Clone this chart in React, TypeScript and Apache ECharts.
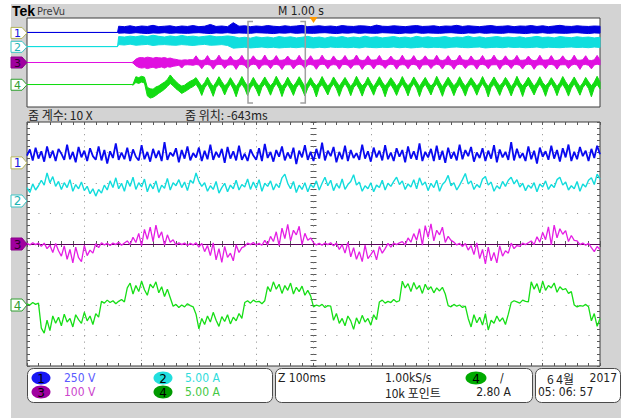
import React, { useEffect, useRef } from "react";
import * as echarts from "echarts";

// ---------- scope settings ----------
const CH_LABELS = ["1", "2", "3", "4"];
const CH_SCALE = [250, 5, 100, 5]; // units per division
const CH_UNITS = ["V", "A", "V", "A"];
const CH_POS_DIV = [2.66, 1.41, 0, -2.0]; // ground marker position (divisions from centre)
const CH_COLORS = ["#0a0af0", "#12dcdc", "#e41ee4", "#16de16"];
const CH_WIDTHS = [1.8, 1.4, 1.3, 1.3];
const OV_COLORS = ["#0000e0", "#10dede", "#e010e0", "#12dc12"];
const TIME_DIV_MS = 100; // zoom time base
const OV_HALF_MS = 5000; // 1 s/div * 5 div
const ZOOM_POS_MS = -643;
const TRIGGER_MS = 0;

// ---------- zoomed (main) window, sampled every 5 ms from -500 ms ----------
const MAIN_T0 = -500;
const MAIN_STEP = 5;
const mainCh1 = [
  60, 110, 20, 125, 35, 95, 10, 135, 40, 100, 15, 115, 75, 25, 150, 30, 90, 5, 130, 45,
  100, 15, 120, 55, 25, 135, 20, 105, -5, 95, 40, 160, 25, 85, 30, 125, 15, 110, 50, 20,
  145, 30, 90, 10, 115, 40, 100, 15, 170, 25, 85, 55, 120, 5, 105, 35, 135, 20, 80, 45,
  125, 15, 100, 30, 150, 25, 90, 45, 115, 0, 130, 35, 95, 20, 140, 25, 75, 15, 110, 60,
  25, 120, 15, 155, 40, 90, 10, 105, 50, 135, 20, 85, 35, 125, -10, 100, 45, 145, 25, 90,
  15, 115, 35, 165, 20, 100, 55, 130, 5, 90, 30, 140, 15, 105, 40, 80, 25, 150, 35, 95,
  10, 125, 45, 100, 20, 145, 30, 85, 15, 120, 50, 105, 5, 135, 35, 95, 25, 160, 15, 90,
  45, 115, 15, 140, 25, 100, 0, 125, 35, 90, 20, 150, 30, 105, 55, 130, 10, 85, 40, 120,
  15, 100, 35, 145, 5, 110, 45, 90, 25, 170, 20, 115, 40, 80, 15, 135, 30, 100, -5, 125,
  50, 95, 25, 140, 35, 105, 10, 120, 45, 150, 15, 90, 30, 130, 55, 100, 15, 115, 40, 140,
  70,
];
const mainCh2 = [
  2.2, 1.4, 2.8, 1.8, 2.5, 3.4, 2.6, 4.6, 3.0, 4.0, 2.4, 3.2, 1.9, 3.0, 2.2, 3.5, 1.6, 2.7, 2.0, 3.1,
  1.7, 2.4, 1.2, 2.0, 0.8, 1.9, 1.3, 2.6, 1.8, 3.3, 2.2, 3.8, 2.0, 2.9, 1.6, 3.4, 2.4, 3.9, 1.9, 3.0,
  2.3, 3.6, 1.5, 2.8, 2.0, 3.3, 1.4, 2.6, 2.1, 3.7, 1.8, 3.0, 2.5, 3.5, 2.2, 3.1, 1.7, 3.4, 2.9, 4.6,
  3.2, 2.4, 3.0, 1.6, 2.5, 1.9, 3.2, 1.3, 2.2, 2.9, 1.5, 2.6, 2.0, 3.4, 1.8, 2.7, 2.3, 3.6, 1.9, 3.1,
  2.1, 3.5, 1.6, 2.9, 2.4, 3.3, 1.8, 2.8, 2.2, 3.8, 4.4, 2.9, 2.0, 3.2, 1.4, 2.6, 1.9, 3.0, 1.5, 2.7,
  2.2, 3.3, 1.8, 2.9, 3.9, 2.5, 3.4, 1.7, 2.8, 2.1, 3.6, 1.9, 2.7, 3.2, 4.3, 2.6, 3.1, 1.6, 2.5, 2.0,
  3.0, 1.5, 2.6, 2.2, 3.4, 1.8, 2.9, 2.4, 3.2, 3.9, 2.7, 3.3, 1.9, 2.8, 2.3, 3.5, 2.0, 3.8, 2.6, 3.1,
  1.7, 2.9, 2.2, 3.4, 1.6, 2.7, 3.2, 4.2, 2.5, 3.0, 1.8, 2.6, 3.5, 4.5, 2.8, 3.3, 1.9, 2.7, 2.2, 3.6,
  4.0, 2.6, 3.1, 1.6, 2.5, 2.0, 3.2, 2.4, 3.4, 3.9, 2.8, 3.5, 2.3, 2.9, 1.7, 2.6, 2.1, 3.0, 1.5, 2.8,
  2.3, 3.3, 1.9, 2.7, 2.2, 3.5, 3.9, 2.6, 3.1, 1.8, 2.5, 2.0, 3.2, 1.6, 2.8, 2.3, 3.4, 3.8, 2.7, 4.4,
  3.6,
];
const mainCh3 = [
  2, -3, 4, -2, 3,
  -8, 3, -15, -4, -28, 2, -22, -40, -6, -50, -18, -62, -10, -45, -58, -5, -38, -20, -30, 1, -12,
  4, -3, 2, -5, 3, -2, 6, -4, 3,
  10, -2, 22, 5, 35, -6, 48, 15, 55, 8, 62, 20, 40, -4, 30, 6, 14,
  -3, 4, -2, 3, -5, 2, -3, 4,
  -10, 2, -25, -5, -38, 4, -52, -15, -60, -8, -44, -30, -55, -3, -28, -12, -8,
  3, -2, 5, -3, 2, -4,
  12, -3, 25, 8, 40, -5, 52, 18, 64, 10, 45, 30, 58, -2, 35, 12, 20, 4,
  -3, 2, -4, 3, -2, 4,
  -6, 3, -18, -2, -30, 5, -42, -12, -50, -25, -58, -4, -48, -35, -20, -52, -8, -30, -15, 2, -10,
  3, -2, 4,
  8, -3, 20, 6, 34, 12, 50, -4, 60, 22, 66, 10, 45, 30, 55, 5, 25, 12, 6,
  -3, 2,
  -8, 2, -20, -5, -35, 4, -48, -18, -65, -10, -55, -28, -62, -6, -40, -22, -30, 3, -15, -5, -8,
  3, -2, 4,
  10, -2, 24, 6, 38, 14, 56, -3, 62, 20, 50, 32, 44, 8, 28, 12, 10,
  -2, 3, -4, 2,
  -12, -25, -8, -18,
];
const mainCh4 = [
  0.2, 0.0, 0.4, 0.1, 0.3,
  -3.8, -4.6, -2.5, -4.2, -1.8, -3.0, -2.0, -3.4, -1.5, -2.8, -2.2, -3.6, -1.6, -2.4, -3.0, -1.2, -2.6, -1.8, -3.2, -1.4, -2.0,
  0.6, 0.3, 0.8, 0.4, 0.7, 0.2, 0.6, 0.9, 0.5,
  2.8, 3.6, 1.8, 3.2, 2.2, 3.9, 2.5, 1.6, 3.4, 2.8, 3.8, 2.0, 3.0, 1.4, 2.6, 1.2,
  -0.2, 0.1, -0.4, 0.0, -0.3, 0.2, -0.1, -0.3,
  -1.5, -3.9, -2.2, -3.2, -1.8, -2.8, -1.2, -2.5, -3.5, -1.9, -2.7, -1.6, -3.1, -2.0, -2.6, -1.4, -2.2,
  0.4, 0.7, 0.3, 0.8, 0.5, 0.6, 0.2, 0.7,
  3.0, 2.2, 3.8, 2.6, 3.4, 1.9, 3.2, 2.4, 3.6, 1.8, 2.9, 2.2, 3.1, 1.6, 2.4, 1.5,
  -0.3, 0.0, -0.2, 0.1, -0.4, -0.1, -0.2,
  -2.5, -1.4, -3.0, -2.2, -3.4, -1.8, -2.6, -4.0, -2.1, -3.1, -1.7, -2.8, -2.2, -3.3, -1.6, -2.4,
  0.5, 0.8, 0.3, 0.6, 0.4, 0.9, 0.5, 0.7,
  3.9, 2.8, 3.5, 2.2, 3.7, 2.6, 3.2, 1.9, 3.4, 2.5, 3.0, 2.0, 2.8, 2.3, 2.9, 1.8,
  -0.1, -0.3, 0.1, -0.2, 0.0, -0.4, -0.2,
  -2.2, -3.6, -1.6, -2.9, -2.0, -3.3, -1.4, -4.1, -2.5, -3.0, -1.8, -2.7, -2.1, -3.2, -1.5,
  0.4, 0.7, 0.5, 0.3, 0.8, 0.6, 0.5,
  3.8, 2.6, 3.5, 2.0, 3.9, 2.4, 3.2, 2.8, 3.6, 2.1, 3.0, 2.5, 2.7, 1.9, 2.2,
  0.0, -0.3, -0.1, -0.2, 0.1, -0.3,
  -2.6, -1.4, -3.5, -2.2,
];

// ---------- overview (10 s record), peak envelopes ----------
const OV_PRE = [10, 0.1, 0, 0.1]; // level before start-up
const OV_A_T0 = -3400; // ch1 / ch2 envelope start, 100 ms step
const OV_A_STEP = 100;
const OV_B_T0 = -3150; // ch3 / ch4 envelope start, 50 ms step
const OV_B_STEP = 50;
const ovCh1Hi = [
  150, 140, 160, 135, 155, 145, 170, 140, 150, 160,
  135, 155, 145, 165, 140, 150, 190, 145, 155, 140,
  230, 150, 160, 140, 155, 145, 165, 150, 140, 160,
  145, 155, 170, 140, 150, 160, 145, 155, 140, 165,
  150, 145, 160, 155, 140, 175, 150, 145, 160, 150,
  140, 155, 165, 145, 150, 160, 140, 155, 150, 170,
  145, 160, 150, 140, 155, 165, 145, 150, 160, 140,
  155, 150, 165, 145, 160, 140, 155, 170, 150, 145,
  160, 150, 145, 155, 150,
];
const ovCh1Lo = [
  -5, 0, -10, 5, -5, -15, 0, -5, 5, -10,
  0, -5, -10, 0, 5, -5, -15, 0, -5, 5,
  -10, 0, -5, -10, 5, 0, -5, -15, 0, -5,
  5, -10, 0, -5, -10, 0, 5, -5, -15, 0,
  -5, 5, -10, 0, -5, -10, 5, 0, -5, -15,
  0, -5, 5, -10, 0, -5, -10, 0, 5, -5,
  -15, 0, -5, 5, -10, 0, -5, -10, 5, 0,
  -5, -15, 0, -5, 5, -10, 0, -5, -10, 0,
  5, -5, -15, 0, -5,
];
const ovCh2Hi = [
  4.6, 4.4, 4.8, 4.5, 5.0, 4.6, 5.2, 4.7, 4.4, 4.9,
  4.5, 5.1, 4.6, 4.8, 4.4, 4.7, 5.0, 4.5, 4.6, 4.9,
  4.6, 4.0, 4.3, 3.9, 4.5, 4.1, 4.4, 4.0, 4.6, 4.2,
  4.5, 4.0, 4.3, 4.7, 4.1, 4.4, 3.9, 4.5, 4.2, 4.6,
  4.0, 4.4, 4.1, 4.8, 4.2, 4.5, 4.0, 4.3, 4.6, 4.1,
  4.4, 4.0, 4.7, 4.2, 4.5, 4.1, 4.3, 4.6, 4.0, 4.4,
  4.2, 4.8, 4.1, 4.5, 4.0, 4.3, 4.6, 4.2, 4.4, 4.1,
  4.5, 4.0, 4.3, 4.7, 4.2, 4.4, 4.0, 4.6, 4.3, 4.1,
  4.5, 4.2, 4.4, 4.0, 4.3,
];
const ovCh2Lo = [
  1.0, 0.8, 1.2, 0.7, 0.9, 1.1, 0.6, 0.9, 1.0, 0.8,
  0.7, 1.0, 0.8, 0.6, 0.9, 1.1, 0.7, 0.8, 1.0, 0.6,
  -0.6, -0.4, -0.2, -0.5, -0.3, -0.1, -0.4, -0.2, -0.5, -0.3,
  -0.2, -0.4, -0.1, -0.3, -0.5, -0.2, -0.4, -0.1, -0.3, -0.2,
  -0.4, -0.2, -0.5, -0.1, -0.3, -0.4, -0.2, -0.3, -0.1, -0.4,
  -0.2, -0.5, -0.3, -0.1, -0.4, -0.2, -0.3, -0.5, -0.2, -0.1,
  -0.3, -0.4, -0.2, -0.1, -0.5, -0.3, -0.2, -0.4, -0.1, -0.3,
  -0.2, -0.4, -0.3, -0.1, -0.5, -0.2, -0.3, -0.4, -0.2, -0.1,
  -0.3, -0.2, -0.4, -0.1, -0.3,
];
const ovCh3Hi = [
  5,
  30, 42, 45, 40, 48, 44, 38, 46, 42, 40, 45, 36, 40, 32, 28,
  22, 20, 24, 22, 26, 24, 60,
  22, 18, 24, 62, 20, 16, 25, 66, 24, 20, 22, 58, 22, 18, 26, 64, 20, 22, 24, 60,
  25, 18, 22, 67, 22, 16, 24, 62, 20, 20, 26, 58, 24, 18, 22, 65, 22, 16, 25, 61,
  20, 22, 24, 66, 25, 18, 20, 59, 22, 16, 24, 63, 20, 20, 26, 67, 24, 18, 22, 60,
  22, 22, 25, 64, 20, 16, 24, 58, 25, 18, 22, 66, 22, 20, 24, 62, 20, 16, 26, 60,
  24, 22, 22, 65, 22, 18, 25, 61, 20, 16, 24, 67, 25, 20, 20, 59, 22, 18, 24, 63,
  20, 22, 26, 66, 24, 16, 22, 60, 22, 18, 25, 64, 20, 20, 24, 58, 25, 16, 22, 65,
  22, 22, 24, 62, 20, 18, 26, 60, 24, 16, 22, 66, 22, 20, 25, 61, 20, 18, 24, 64,
  22,
];
const ovCh3Lo = [
  -5,
  -30, -44, -50, -46, -55, -48, -42, -52, -45, -40, -50, -38, -42, -34, -30,
  -24, -50, -22, -20, -22, -25, -18,
  -22, -56, -20, -18, -24, -60, -22, -16, -20, -54, -24, -20, -22, -62, -20, -18, -25, -57, -22, -15,
  -20, -60, -24, -19, -22, -55, -20, -17, -24, -63, -22, -20, -20, -58, -25, -16, -22, -54, -20, -18,
  -25, -61, -22, -15, -20, -57, -24, -19, -22, -60, -20, -17, -24, -55, -22, -20, -20, -62, -25, -16,
  -22, -58, -20, -18, -25, -54, -22, -15, -20, -60, -24, -19, -22, -57, -20, -17, -24, -63, -22, -20,
  -20, -55, -25, -16, -22, -59, -20, -18, -25, -61, -22, -15, -20, -54, -24, -19, -22, -60, -20, -17,
  -24, -57, -22, -20, -20, -62, -25, -16, -22, -55, -20, -18, -25, -59, -22, -15, -20, -61, -24, -19,
  -22, -56, -20, -17, -24, -60, -22, -20, -20, -54, -25, -16, -22, -62, -20, -18, -25, -57, -22, -15,
  -22,
];
const ovCh4Hi = [
  0.2,
  3.6, 3.2, 3.8, 3.4,
  -1.2, -1.8, -2.0, -1.0,
  -0.5, 0.4, 1.2, 2.4,
  4.4,
  2.8, 1.5, 0.2, -0.6,
  -0.2, 0.8, 1.6, 2.2,
  3.2,
  1.2, -0.6, 1.0, 3.4, 1.0, -0.8, 1.2, 3.6, 1.4, -0.5, 0.8, 3.2, 1.1, -0.9, 1.1, 3.7, 1.3, -0.6, 0.9, 3.3,
  1.0, -0.7, 1.3, 3.5, 1.2, -0.5, 1.0, 3.8, 1.4, -0.8, 0.8, 3.4, 1.1, -0.6, 1.2, 3.6, 1.3, -0.9, 1.0, 3.2,
  1.0, -0.5, 1.1, 3.7, 1.2, -0.7, 0.9, 3.5, 1.4, -0.6, 1.3, 3.3, 1.1, -0.8, 1.0, 3.8, 1.3, -0.5, 0.8, 3.4,
  1.0, -0.9, 1.2, 3.6, 1.2, -0.6, 1.1, 3.2, 1.4, -0.7, 0.9, 3.7, 1.1, -0.5, 1.0, 3.5, 1.3, -0.8, 1.3, 3.3,
  1.0, -0.6, 0.8, 3.8, 1.2, -0.9, 1.2, 3.4, 1.4, -0.5, 1.0, 3.6, 1.1, -0.7, 1.1, 3.2, 1.3, -0.6, 0.9, 3.7,
  1.0, -0.8, 1.3, 3.5, 1.2, -0.5, 1.0, 3.3, 1.4, -0.9, 0.8, 3.8, 1.1, -0.6, 1.2, 3.4, 1.3, -0.7, 1.1, 3.6,
  1.0, -0.5, 0.9, 3.2, 1.2, -0.8, 1.0, 3.7, 1.4, -0.6, 1.3, 3.5, 1.1, -0.9, 0.8, 3.3, 1.3, -0.5, 1.2, 3.8,
  1.2,
];
const ovCh4Lo = [
  -0.2,
  1.0, 0.6, 1.2, 0.8,
  -5.0, -6.0, -5.6, -4.8,
  -3.8, -3.0, -2.0, -0.8,
  0.6,
  -0.5, -1.8, -2.8, -3.9,
  -3.2, -2.4, -1.5, -0.8,
  0.2,
  -1.8, -4.8, -1.4, 0.4, -2.0, -5.2, -1.2, 0.2, -1.6, -4.6, -1.6, 0.5, -1.9, -5.4, -1.3, 0.3, -1.7, -4.9, -1.5, 0.1,
  -2.1, -5.1, -1.2, 0.4, -1.8, -4.7, -1.4, 0.6, -1.6, -5.3, -1.6, 0.2, -2.0, -4.8, -1.3, 0.5, -1.9, -5.0, -1.5, 0.3,
  -1.7, -5.5, -1.2, 0.1, -2.1, -4.6, -1.4, 0.4, -1.8, -5.2, -1.6, 0.6, -1.6, -4.9, -1.3, 0.2, -2.0, -5.1, -1.5, 0.5,
  -1.9, -4.7, -1.2, 0.3, -1.7, -5.4, -1.4, 0.1, -2.1, -4.8, -1.6, 0.4, -1.8, -5.0, -1.3, 0.6, -1.6, -5.3, -1.5, 0.2,
  -2.0, -4.6, -1.2, 0.5, -1.9, -5.2, -1.4, 0.3, -1.7, -4.9, -1.6, 0.1, -2.1, -5.1, -1.3, 0.4, -1.8, -4.7, -1.5, 0.6,
  -1.6, -5.5, -1.2, 0.2, -2.0, -4.8, -1.4, 0.5, -1.9, -5.0, -1.6, 0.3, -1.7, -5.3, -1.3, 0.1, -2.1, -4.6, -1.5, 0.4,
  -1.8, -5.2, -1.2, 0.6, -1.6, -4.9, -1.4, 0.2, -2.0, -5.1, -1.6, 0.5, -1.9, -4.7, -1.3, 0.3, -1.7, -5.4, -1.5, 0.1,
  -1.8,
];

// ---------- readouts ----------
const READ_ZOOM_FACTOR = "줌 계수: 10 X";
const READ_ZOOM_POS = "줌 위치: -643ms";
const READ_SCALES = ["250 V", "5.00 A", "100 V", "5.00 A"];
const READ_TIMEBASE = "M 1.00 s";
const READ_ZOOM_TB = "Z 100ms";
const READ_RATE = "1.00kS/s";
const READ_POINTS = "10k 포인트";
const READ_TRIG_LEVEL = "2.80 A";
const READ_DATE = ["6 4월", "2017"];
const READ_TIME = "05: 06: 57";

const FONT = "'DejaVu Sans Condensed', 'Liberation Sans Narrow', Roboto, sans-serif";
const KFONT = "'Noto Sans CJK KR', sans-serif";

const GRID_OV = { left: 27, top: 18, width: 573, height: 89 };
const GRID_MAIN = { left: 27, top: 122, width: 573, height: 244 };

function txt(text: string, x: number, y: number, fill: string, font: string, align = "left") {
  return {
    type: "text",
    x,
    y,
    silent: true,
    z: 50,
    style: { text, fill, font, align, verticalAlign: "middle", textAlign: align, textVerticalAlign: "middle" },
  };
}

function buildOption() {
  const tickStyle = { color: "#5a5a5a", width: 1 };
  const baseX = {
    gridIndex: 1,
    type: "value",
    min: -5 * TIME_DIV_MS,
    max: 5 * TIME_DIV_MS,
    interval: TIME_DIV_MS,
    axisLine: { show: false, onZero: false },
    axisLabel: { show: false },
    axisTick: { show: true, inside: true, length: 3, lineStyle: tickStyle },
    minorTick: { show: true, splitNumber: 5, length: 3, lineStyle: tickStyle },
    splitLine: { show: false },
  };
  const baseY = {
    gridIndex: 1,
    type: "value",
    min: -4,
    max: 4,
    interval: 1,
    axisLine: { show: false, onZero: false },
    axisLabel: { show: false },
    axisTick: { show: true, inside: true, length: 3, lineStyle: tickStyle },
    minorTick: { show: true, splitNumber: 5, length: 3, lineStyle: tickStyle },
    splitLine: { show: false },
  };
  const xAxis: any[] = [
    { gridIndex: 0, type: "value", min: -OV_HALF_MS, max: OV_HALF_MS, show: false, axisLine: { onZero: false } },
    { ...baseX, position: "bottom", splitLine: { show: true, lineStyle: { color: "#8a8a8a", width: 1, type: [1, 5.1] } } },
    { ...baseX, position: "top" },
    { ...baseX, position: "bottom", offset: -GRID_MAIN.height / 2 },
    { ...baseX, position: "bottom", offset: -GRID_MAIN.height / 2, axisTick: { ...baseX.axisTick, inside: false } },
  ];
  const yAxis: any[] = [
    { ...baseY, position: "left", splitLine: { show: true, lineStyle: { color: "#8a8a8a", width: 1, type: [1, 10.46] } } },
    { ...baseY, position: "right" },
    { ...baseY, position: "left", offset: -GRID_MAIN.width / 2 },
    { ...baseY, position: "left", offset: -GRID_MAIN.width / 2, axisTick: { ...baseY.axisTick, inside: false } },
  ];
  for (let g = 0; g < 2; g++) {
    for (let c = 0; c < 4; c++) {
      yAxis.push({
        gridIndex: g === 0 ? 1 : 0,
        type: "value",
        min: (-4 - CH_POS_DIV[c]) * CH_SCALE[c],
        max: (4 - CH_POS_DIV[c]) * CH_SCALE[c],
        show: false,
        axisLine: { onZero: false },
      });
    }
  }
  const mains = [mainCh1, mainCh2, mainCh3, mainCh4];
  const series: any[] = mains.map((vals, c) => {
    const s: any = {
      type: "line",
      xAxisIndex: 1,
      yAxisIndex: 4 + c,
      data: vals.map((v, i) => [MAIN_T0 + i * MAIN_STEP, v]),
      symbol: "none",
      showSymbol: false,
      silent: true,
      lineStyle: { width: CH_WIDTHS[c], color: CH_COLORS[c] },
      z: 3 + c,
    };
    if (c === 2) {
      s.markLine = {
        silent: true,
        symbol: "none",
        label: { show: false },
        lineStyle: { color: "#5a005a", width: 1, type: "solid" },
        data: [{ yAxis: 0 }],
      };
    }
    return s;
  });
  const bands = [
    [OV_A_T0, OV_A_STEP, ovCh1Hi, ovCh1Lo],
    [OV_A_T0, OV_A_STEP, ovCh2Hi, ovCh2Lo],
    [OV_B_T0, OV_B_STEP, ovCh3Hi, ovCh3Lo],
    [OV_B_T0, OV_B_STEP, ovCh4Hi, ovCh4Lo],
  ] as [number, number, number[], number[]][];
  bands.forEach(([t0, step, hi, lo], c) => {
    series.push({
      type: "custom",
      xAxisIndex: 0,
      yAxisIndex: 8 + c,
      silent: true,
      data: [[t0, OV_PRE[c]]],
      z: 3 + c,
      renderItem: (params: any, api: any) => {
        const pts: number[][] = [];
        pts.push(api.coord([-OV_HALF_MS, OV_PRE[c]]));
        pts.push(api.coord([t0 - 20, OV_PRE[c]]));
        for (let k = 0; k < hi.length; k++) pts.push(api.coord([t0 + k * step, hi[k]]));
        for (let k = lo.length - 1; k >= 0; k--) pts.push(api.coord([t0 + k * step, lo[k]]));
        pts.push(api.coord([t0 - 20, OV_PRE[c]]));
        return {
          type: "polygon",
          shape: { points: pts },
          style: { fill: OV_COLORS[c], stroke: OV_COLORS[c], lineWidth: 1 },
        };
      },
    });
  });
  return {
    animation: false,
    backgroundColor: "transparent",
    grid: [
      { ...GRID_OV, show: true, backgroundColor: "#ffffff", borderColor: "#3c3c3c", borderWidth: 1 },
      { ...GRID_MAIN, show: true, backgroundColor: "#ffffff", borderColor: "#3c3c3c", borderWidth: 1 },
    ],
    xAxis,
    yAxis,
    series,
  };
}

const MARKER_STYLE = [
  { fill: "#ffffff", stroke: "#b4b45a", text: "#1414e0" },
  { fill: "#ffffff", stroke: "#3cc4c4", text: "#1cb4b4" },
  { fill: "#a000a0", stroke: "#8a008a", text: "#300030" },
  { fill: "#ffffff", stroke: "#2e9e2e", text: "#2e9e2e" },
];

function marker(cy: number, h: number, c: number) {
  const x0 = 11;
  const w = 16;
  const tip = 5;
  const st = MARKER_STYLE[c];
  return [
    {
      type: "polygon",
      silent: true,
      z: 40,
      shape: {
        points: [
          [x0, cy - h / 2],
          [x0 + w - tip, cy - h / 2],
          [x0 + w, cy],
          [x0 + w - tip, cy + h / 2],
          [x0, cy + h / 2],
        ],
      },
      style: { fill: st.fill, stroke: st.stroke, lineWidth: 1 },
    },
    txt(CH_LABELS[c], x0 + 6.5, cy + 0.5, st.text, `${h >= 12 ? 12 : 11}px 'DejaVu Sans', sans-serif`, "center"),
  ];
}

function buildGraphic(chart: any) {
  const pxY = (axis: number, v: number) => chart.convertToPixel({ yAxisIndex: axis }, v) as number;
  const pxX = (axis: number, v: number) => chart.convertToPixel({ xAxisIndex: axis }, v) as number;
  const els: any[] = [];
  // header
  els.push(txt("Tek", 12, 11, "#000000", "bold 14px 'Liberation Sans', Arial, sans-serif"));
  els.push(txt("PreVu", 37, 11, "#3a3a3a", `11px ${FONT}`));
  els.push(txt(READ_TIMEBASE, 278, 11, "#222222", `12px ${FONT}`));
  // trigger position
  const tx = pxX(0, TRIGGER_MS);
  els.push({ type: "polygon", silent: true, z: 45, shape: { points: [[tx - 4, 17], [tx + 4, 17], [tx, 23]] }, style: { fill: "#ff9a00" } });
  // zoom bracket
  const half = 5 * TIME_DIV_MS;
  const bx1 = pxX(0, ZOOM_POS_MS - half);
  const bx2 = pxX(0, ZOOM_POS_MS + half);
  const yt = GRID_OV.top + 3.5;
  const yb = GRID_OV.top + GRID_OV.height - 4;
  const bStyle = { stroke: "#a0a0a0", lineWidth: 1.5, fill: "none" };
  els.push({ type: "polyline", silent: true, z: 45, shape: { points: [[bx1 + 5, yt], [bx1, yt], [bx1, yb], [bx1 + 5, yb]] }, style: bStyle });
  els.push({ type: "polyline", silent: true, z: 45, shape: { points: [[bx2 - 5, yt], [bx2, yt], [bx2, yb], [bx2 - 5, yb]] }, style: bStyle });
  // zoom readouts
  els.push(txt(READ_ZOOM_FACTOR, 28, 114, "#222222", `12px ${KFONT}`));
  els.push(txt(READ_ZOOM_POS, 185, 114, "#222222", `12px ${KFONT}`));
  // channel ground markers
  for (let c = 0; c < 4; c++) {
    els.push(...marker(pxY(8 + c, 0), 11, c));
    els.push(...marker(pxY(4 + c, 0), 12, c));
  }
  // status boxes
  const boxY = 368;
  const boxH = 34;
  const boxStyle = { fill: "#ffffff", stroke: "#4a4a4a", lineWidth: 1 };
  els.push({ type: "rect", silent: true, z: 40, shape: { x: 27.5, y: boxY + 0.5, width: 245, height: boxH, r: 6 }, style: boxStyle });
  els.push({ type: "rect", silent: true, z: 40, shape: { x: 275.5, y: boxY + 0.5, width: 257, height: boxH, r: 6 }, style: boxStyle });
  els.push({ type: "rect", silent: true, z: 40, shape: { x: 535.5, y: boxY + 0.5, width: 85, height: boxH, r: 6 }, style: boxStyle });
  const r1 = 378;
  const r2 = 392;
  const badge = (cx: number, cy: number, fill: string, label: string, rx = 9.5) => [
    { type: "ellipse", silent: true, z: 45, shape: { cx, cy, rx, ry: 6.5 }, style: { fill } },
    txt(label, cx, cy + 0.5, "#000000", `12px 'DejaVu Sans', sans-serif`, "center"),
  ];
  els.push(...badge(41, r1, "#1818f4", "1"));
  els.push(...badge(41, r2, "#a000a0", "3"));
  els.push(...badge(163, r1, "#22dede", "2"));
  els.push(...badge(163, r2, "#009a00", "4"));
  els.push(txt(READ_SCALES[0], 64, r1, "#5a5aff", `12px ${FONT}`));
  els.push(txt(READ_SCALES[2], 64, r2, "#cc44cc", `12px ${FONT}`));
  els.push(txt(READ_SCALES[1], 185, r1, "#30dcdc", `12px ${FONT}`));
  els.push(txt(READ_SCALES[3], 185, r2, "#44c844", `12px ${FONT}`));
  els.push(txt(READ_ZOOM_TB, 278, r1, "#222222", `12px ${FONT}`));
  els.push(txt(READ_RATE, 385, r1, "#222222", `12px ${FONT}`));
  els.push(txt(READ_POINTS, 385, r2, "#222222", `12px ${KFONT}`));
  els.push(...badge(476, r1, "#00aa00", "4", 10.5));
  els.push(txt("/", 500, r1, "#222222", `12px ${FONT}`));
  els.push(txt(READ_TRIG_LEVEL, 511, r2, "#222222", `12px ${FONT}`, "right"));
  els.push(txt(READ_DATE[0], 547, r1, "#222222", `12px ${KFONT}`));
  els.push(txt(READ_DATE[1], 617, r1, "#222222", `12px ${FONT}`, "right"));
  els.push(txt(READ_TIME, 538, r2, "#222222", `12px ${FONT}`));
  return els;
}

export default function App() {
  const ref = useRef<HTMLDivElement>(null);
  useEffect(() => {
    const el = ref.current;
    if (!el) return;
    const chart = echarts.init(el, null, { renderer: "svg" });
    chart.setOption(buildOption() as any);
    chart.setOption({ graphic: { elements: buildGraphic(chart) } } as any);
    return () => chart.dispose();
  }, []);
  return (
    <div style={{ position: "absolute", left: 0, top: 0, width: 629, height: 418, background: "#ffffff", overflow: "hidden" }}>
      <div style={{ position: "absolute", left: 11, top: 4, width: 610, height: 414, background: "#d3d3d3" }} />
      <div ref={ref} style={{ position: "absolute", left: 0, top: 0, width: 629, height: 418 }} />
    </div>
  );
}
